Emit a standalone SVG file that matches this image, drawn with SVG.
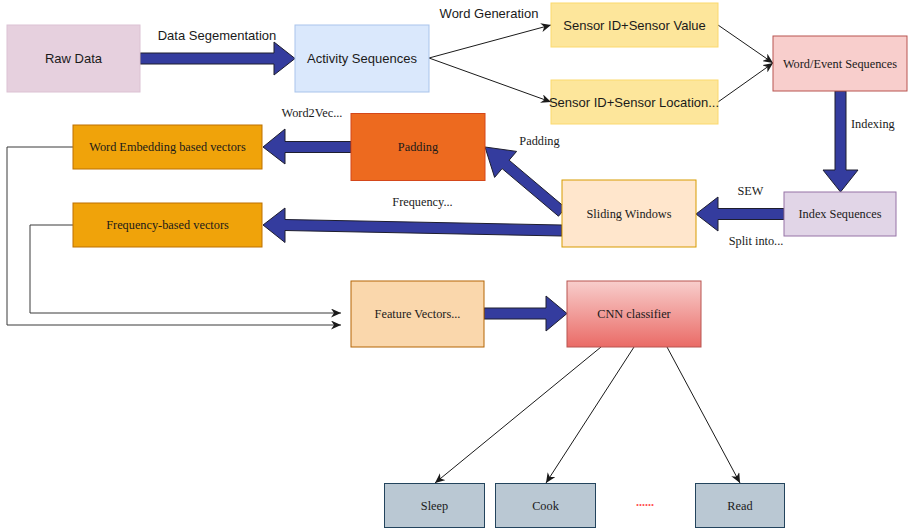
<svg xmlns="http://www.w3.org/2000/svg" width="908" height="530" viewBox="0 0 908 530">
  <defs>
    <linearGradient id="cnnFill" x1="0" y1="0" x2="0" y2="1">
      <stop offset="0" stop-color="#f8cecc"/>
      <stop offset="1" stop-color="#ea6b66"/>
    </linearGradient>
    <marker id="arrow" markerUnits="userSpaceOnUse" markerWidth="11" markerHeight="9" refX="10" refY="4.5" orient="auto">
      <path d="M0,0 L10,4.5 L0,9 L3,4.5 Z" fill="#1a1a1a"/>
    </marker>
    <style>
      .sans { font-family: "Liberation Sans", Arial, sans-serif; font-size: 13px; fill: #1a1a1a; }
      .serif { font-family: "Liberation Serif", "Times New Roman", serif; font-size: 12.3px; fill: #1a1a1a; }
      .mid { text-anchor: middle; dominant-baseline: central; }
      .flex { fill: #343c9e; stroke: #1e1e2e; stroke-width: 1; stroke-linejoin: miter; }
      .thin { fill: none; stroke: #1a1a1a; stroke-width: 1; marker-end: url(#arrow); }
      .route { fill: none; stroke: #3a3a3a; stroke-width: 1; marker-end: url(#arrow); }
      .box { stroke-width: 1; }
      .dots { font-family: "Liberation Serif", "Times New Roman", serif; font-size: 12px; font-weight: bold; fill: #ff4d4d; text-anchor: middle; }
    </style>
  </defs>

  <!-- connectors -->
  <g id="connectors">
    <!-- block arrows -->
    <path class="flex" d="M140,53 L274,53 L274,42 L295,58.5 L274,75 L274,64 L140,64 Z"/>
    <path class="flex" d="M835,91 L835,170 L823,170 L840.5,192 L858,170 L846,170 L846,91 Z"/>
    <path class="flex" d="M784,208.5 L718,208.5 L718,197 L696,214 L718,231 L718,219.5 L784,219.5 Z"/>
    <path class="flex" d="M565.5,207.8 L509.1,160.2 L516.6,151.4 L485,147 L494.6,177.4 L502.1,168.6 L558.5,216.2 Z"/>
    <path class="flex" d="M351,141.5 L285,141.5 L285,129 L263,147 L285,164 L285,152.5 L351,152.5 Z"/>
    <path class="flex" d="M562,225 L285,219.5 L285,208 L263,225 L285,242.5 L285,230.5 L562,236 Z"/>
    <path class="flex" d="M484,308 L546,308 L546,296 L567,313.5 L546,331 L546,319 L484,319 Z"/>

    <!-- word generation -->
    <path class="thin" d="M429,58 L551,25"/>
    <path class="thin" d="M429,58 L551,102"/>
    <path class="thin" d="M718,25 L773,63"/>
    <path class="thin" d="M718,102 L773,63"/>

    <!-- vectors into feature vectors -->
    <path class="route" d="M73,147 L7,147 L7,325 L341,325"/>
    <path class="route" d="M73,225 L30,225 L30,313 L341,313"/>

    <!-- classifier outputs -->
    <path class="thin" d="M601,347 L435,483"/>
    <path class="thin" d="M634,347 L546,483"/>
    <path class="thin" d="M667,347 L740,483"/>

    <!-- edge labels -->
    <text class="sans mid" x="217" y="35">Data Segementation</text>
    <text class="sans mid" x="489" y="13">Word Generation</text>
    <text class="serif" x="851" y="128">Indexing</text>
    <text class="serif mid" x="750.5" y="190.5">SEW</text>
    <text class="serif mid" x="756" y="240.5">Split into...</text>
    <text class="serif mid" x="539.5" y="141">Padding</text>
    <text class="serif mid" x="312" y="112.5">Word2Vec...</text>
    <text class="serif mid" x="422.5" y="201.5">Frequency...</text>
  </g>

  <g id="raw-data">
    <rect class="box" x="7" y="25" width="133" height="67" fill="#e6d0de" stroke="#dcc2d3"/>
    <text class="sans mid" x="73.5" y="58.5">Raw Data</text>
  </g>

  <g id="activity-sequences">
    <rect class="box" x="295" y="25" width="134" height="67" fill="#dae8fc" stroke="#a9c4eb"/>
    <text class="sans mid" x="362" y="58.5">Activity Sequences</text>
  </g>

  <g id="sensor-value">
    <rect class="box" x="551" y="3" width="167" height="44" fill="#fde69b" stroke="#fbd96e"/>
    <text class="sans mid" x="634.5" y="25">Sensor ID+Sensor Value</text>
  </g>

  <g id="sensor-location">
    <rect class="box" x="551" y="80" width="167" height="44" fill="#fde69b" stroke="#fbd96e"/>
    <text class="sans mid" x="634" y="102">Sensor ID+Sensor Location...</text>
  </g>

  <g id="word-event-sequences">
    <rect class="box" x="773" y="36" width="134" height="55" fill="#f8cecc" stroke="#b85450"/>
    <text class="serif mid" x="840" y="63.5">Word/Event Sequences</text>
  </g>

  <g id="index-sequences">
    <rect class="box" x="784" y="192" width="112" height="44" fill="#e1d5e7" stroke="#9673a6"/>
    <text class="serif mid" x="840" y="214">Index Sequences</text>
  </g>

  <g id="sliding-windows">
    <rect class="box" x="562" y="180" width="134" height="67" fill="#ffe6cc" stroke="#d79b00"/>
    <text class="serif mid" x="629" y="213.5">Sliding Windows</text>
  </g>

  <g id="padding">
    <rect class="box" x="351" y="113.5" width="134" height="67" fill="#ed6a1f" stroke="#d4471a"/>
    <text class="serif mid" x="418" y="147">Padding</text>
  </g>

  <g id="word-embedding-vectors">
    <rect class="box" x="73" y="125" width="189" height="44" fill="#f0a30a" stroke="#bd7000"/>
    <text class="serif mid" x="167.5" y="147">Word Embedding based vectors</text>
  </g>

  <g id="frequency-vectors">
    <rect class="box" x="73" y="203" width="189" height="44" fill="#f0a30a" stroke="#bd7000"/>
    <text class="serif mid" x="167.5" y="225">Frequency-based vectors</text>
  </g>

  <g id="feature-vectors">
    <rect class="box" x="351" y="281" width="133" height="66" fill="#fad7ac" stroke="#b46504"/>
    <text class="serif mid" x="417.5" y="314">Feature Vectors...</text>
  </g>

  <g id="cnn-classifier">
    <rect class="box" x="567" y="281" width="134" height="66" fill="url(#cnnFill)" stroke="#b85450"/>
    <text class="serif mid" x="634" y="313.5">CNN classifier</text>
  </g>

  <g id="sleep">
    <rect class="box" x="384.5" y="483.5" width="100" height="44" fill="#bac8d3" stroke="#23445d"/>
    <text class="serif mid" x="434.5" y="505.5">Sleep</text>
  </g>

  <g id="cook">
    <rect class="box" x="495.5" y="483.5" width="100" height="44" fill="#bac8d3" stroke="#23445d"/>
    <text class="serif mid" x="545.5" y="505.5">Cook</text>
  </g>

  <g id="ellipsis">
    <text class="dots" x="645" y="506">......</text>
  </g>

  <g id="read">
    <rect class="box" x="695.5" y="483.5" width="89" height="44" fill="#bac8d3" stroke="#23445d"/>
    <text class="serif mid" x="740" y="505.5">Read</text>
  </g>
</svg>
